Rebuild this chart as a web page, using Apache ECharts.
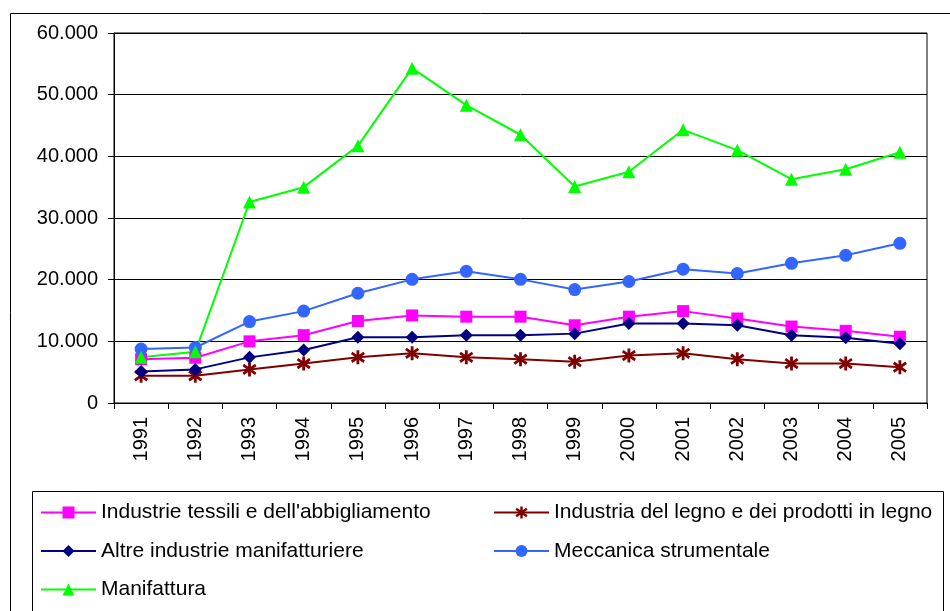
<!DOCTYPE html>
<html>
<head>
<meta charset="utf-8">
<script src="https://cdn.jsdelivr.net/npm/echarts@6/dist/echarts.min.js"></script>
<style>
  html, body { margin: 0; padding: 0; background: #fff; }
  #chart { width: 950px; height: 611px; }
</style>
</head>
<body>
<div id="chart"></div>
<script>
// Years on the category axis
const years = ['1991','1992','1993','1994','1995','1996','1997','1998','1999','2000','2001','2002','2003','2004','2005'];

// Series values
const tessili     = [7100, 7350, 10000, 11000, 13300, 14200, 14000, 14000, 12600, 14000, 14900, 13700, 12400, 11700, 10750];
const legno       = [4400, 4400, 5450, 6400, 7400, 8050, 7400, 7100, 6700, 7700, 8050, 7100, 6400, 6400, 5800];
const altre       = [5100, 5450, 7400, 8600, 10650, 10650, 11000, 11000, 11250, 12900, 12900, 12600, 11000, 10600, 9600];
const meccanica   = [8750, 9000, 13200, 14900, 17800, 20050, 21350, 20050, 18400, 19700, 21700, 21000, 22650, 23950, 25900];
const manifattura = [7400, 8300, 32600, 35000, 41700, 54300, 48300, 43500, 35100, 37500, 44300, 41000, 36300, 37900, 40650];

// Series names
const names = [
  'Industrie tessili e dell\'abbigliamento',
  'Industria del legno e dei prodotti in legno',
  'Altre industrie manifatturiere',
  'Meccanica strumentale',
  'Manifattura'
];

// Asterisk marker: vertical bar plus two diagonals
const asterisk = 'path://M4.8 0L7.2 0L7.2 12L4.8 12Z' +
  'M1.344 1.187L11.944 8.787L10.656 10.813L0.056 3.213Z' +
  'M0.056 8.787L10.656 1.187L11.944 3.213L1.344 10.813Z';

const font = 'Arial, "Liberation Sans", sans-serif';

function fmt(v) {
  return String(v).replace(/\B(?=(\d{3})+(?!\d))/g, '.');
}

function line(name, data, color, symbol, size) {
  return {
    name: name,
    type: 'line',
    data: data,
    symbol: symbol,
    symbolSize: size,
    showSymbol: true,
    lineStyle: { color: color, width: 2 },
    itemStyle: { color: color, borderWidth: 0 },
    emphasis: { disabled: true },
    animation: false
  };
}

const legendText = { color: '#000', fontSize: 21, lineHeight: 20, fontFamily: font };

const chart = echarts.init(document.getElementById('chart'), null, { renderer: 'canvas' });

chart.setOption({
  backgroundColor: '#fff',
  animation: false,
  grid: {
    left: 114, top: 33, right: 23, bottom: 208,
    show: true, borderColor: '#000', borderWidth: 1, backgroundColor: 'transparent'
  },
  xAxis: {
    type: 'category',
    data: years,
    boundaryGap: true,
    axisLine: { lineStyle: { color: '#000', width: 1 } },
    axisTick: { show: true, length: 6, lineStyle: { color: '#000' } },
    axisLabel: { rotate: 90, margin: 14, color: '#000', fontSize: 20, fontFamily: font }
  },
  yAxis: {
    type: 'value',
    min: 0, max: 60000, interval: 10000,
    axisLine: { show: true, lineStyle: { color: '#000', width: 1 } },
    axisTick: { show: true, length: 6, lineStyle: { color: '#000' } },
    splitLine: { show: true, lineStyle: { color: '#000', width: 1 } },
    axisLabel: { margin: 16, color: '#000', fontSize: 20, fontFamily: font, formatter: fmt }
  },
  legend: [
    {
      orient: 'vertical', left: 35, top: 497,
      data: [names[0], names[2], names[4]],
      itemWidth: 55, itemHeight: 15, itemGap: 17.5,
      textStyle: legendText,
      selectedMode: false
    },
    {
      orient: 'vertical', left: 488, top: 497,
      data: [names[1], names[3]],
      itemWidth: 55, itemHeight: 15, itemGap: 17.5,
      textStyle: legendText,
      selectedMode: false
    }
  ],
  graphic: [
    { type: 'rect', silent: true, z: -1,
      shape: { x: 10.5, y: 13.5, width: 1000, height: 700 },
      style: { fill: 'none', stroke: '#000', lineWidth: 1 } },
    { type: 'rect', silent: true, z: -1,
      shape: { x: 32.5, y: 491.5, width: 911, height: 200 },
      style: { fill: 'none', stroke: '#000', lineWidth: 1 } }
  ],
  series: [
    line(names[0], tessili, '#FF00FF', 'rect', 12),
    line(names[1], legno, '#800000', asterisk, 14),
    line(names[2], altre, '#000080', 'diamond', 13),
    line(names[3], meccanica, '#3366FF', 'circle', 13),
    line(names[4], manifattura, '#00FF00', 'triangle', 13)
  ]
});
</script>
</body>
</html>
